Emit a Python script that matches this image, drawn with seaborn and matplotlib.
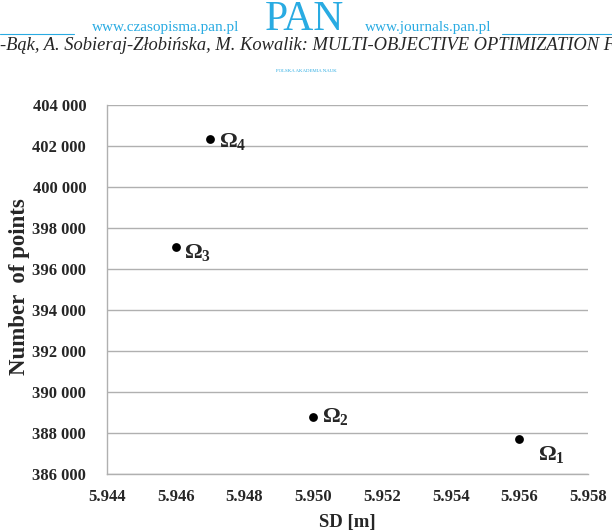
import matplotlib
matplotlib.use("Agg")
import matplotlib.pyplot as plt
import seaborn as sns
import pandas as pd

# values
labels = ["1", "2", "3", "4"]
sd_m = [5.956, 5.950, 5.946, 5.947]
n_points = [387700, 388800, 397050, 402350]
label_dx = [0.00055, 0.00025, 0.00025, 0.00025]
label_dy = [-750, 0, -250, -150]

y_ticks = list(range(386000, 404001, 2000))
x_ticks = [5.944, 5.946, 5.948, 5.950, 5.952, 5.954, 5.956, 5.958]

df = pd.DataFrame({"sd": sd_m, "n": n_points, "lab": labels})

sns.set_theme(style="white")
plt.rcParams["font.family"] = ["Liberation Serif", "DejaVu Serif"]
plt.rcParams["mathtext.fontset"] = "custom"
plt.rcParams["mathtext.rm"] = "Liberation Serif:bold"
plt.rcParams["mathtext.it"] = "Liberation Serif:bold"
plt.rcParams["mathtext.bf"] = "Liberation Serif:bold"

fig = plt.figure(figsize=(6.12, 5.32), dpi=100)
ax = fig.add_axes([107 / 612, 1 - 474 / 532, (588 - 107) / 612, (474 - 105) / 532])

sns.scatterplot(data=df, x="sd", y="n", ax=ax, color="black", s=40,
                edgecolor="black", linewidth=0, zorder=3)

for x, y, lab, dx, dy in zip(sd_m, n_points, labels, label_dx, label_dy):
    ax.text(x + dx, y + dy, "Ω$_{" + lab + "}$", fontsize=16, fontweight="bold",
            va="center", ha="left")

ax.set_xlim(5.944, 5.958)
ax.set_ylim(386000, 404000)
ax.set_xticks(x_ticks)
ax.set_yticks(y_ticks)
ax.set_xticklabels([f"{v:.3f}" for v in x_ticks], fontsize=12, fontweight="bold")
ax.set_yticklabels([f"{v:,}".replace(",", " ") for v in y_ticks], fontsize=12, fontweight="bold")
ax.tick_params(axis="y", length=0, pad=15)
ax.tick_params(axis="x", length=0, pad=11)
ax.yaxis.grid(True, color="#b0b0b0", linewidth=1)
ax.xaxis.grid(False)
for side in ["top", "right"]:
    ax.spines[side].set_visible(False)
for side in ["left", "bottom"]:
    ax.spines[side].set_color("#b0b0b0")
    ax.spines[side].set_linewidth(1)

ax.set_xlabel("SD [m]", fontsize=13.5, fontweight="bold", labelpad=6)
ax.set_ylabel("")
fig.text(20 / 612, 1 - 287 / 532, "Number  of points", fontsize=16.5, fontweight="bold",
         rotation=90, va="center", ha="center")

# page header from the source journal
blue = "#29abe2"
fig.text(0, 1 - 45 / 532, "-Bąk, A. Sobieraj-Złobińska, M. Kowalik: MULTI-OBJECTIVE OPTIMIZATION F",
         fontsize=13.3, fontstyle="italic", va="center", ha="left")
fig.text(92 / 612, 1 - 28 / 532, "www.czasopisma.pan.pl", color=blue, fontsize=11,
         va="center", ha="left")
fig.text(365 / 612, 1 - 28 / 532, "www.journals.pan.pl", color=blue, fontsize=11,
         va="center", ha="left")
fig.text(265 / 612, 1 - 20 / 532, "PAN", color=blue, fontsize=30, va="center", ha="left")
fig.text(306 / 612, 1 - 71 / 532, "POLSKA AKADEMIA NAUK", color=blue, fontsize=3.5,
         va="center", ha="center")
fig.add_artist(plt.Line2D([0, 74 / 612], [1 - 34 / 532] * 2, color=blue, lw=0.8))
fig.add_artist(plt.Line2D([502 / 612, 1], [1 - 34 / 532] * 2, color=blue, lw=0.8))

fig.savefig("out.png", dpi=100)
